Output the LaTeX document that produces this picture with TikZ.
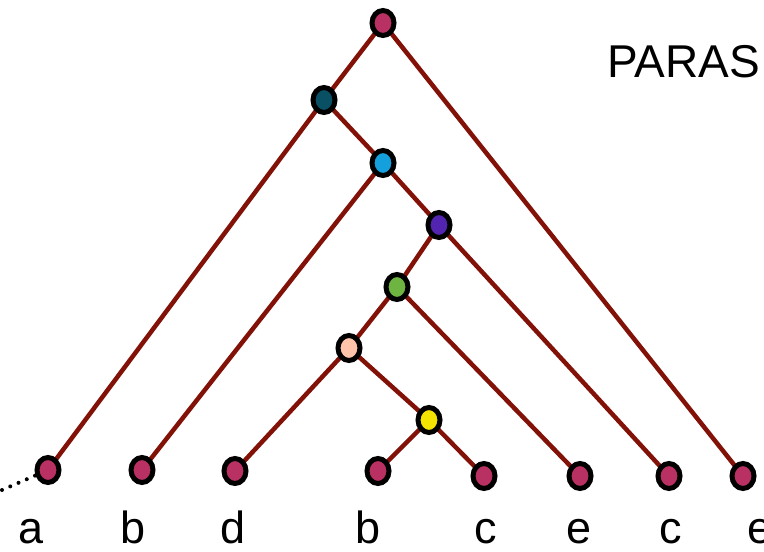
\documentclass[tikz,border=0pt]{standalone}
\usepackage{fontspec}
\setmainfont{Liberation Sans}
\usetikzlibrary{shapes.geometric,backgrounds}
\definecolor{edgered}{RGB}{130,18,8}
\definecolor{leafpink}{RGB}{185,48,98}
\definecolor{tealdark}{RGB}{10,80,100}
\definecolor{skyblue}{RGB}{20,160,220}
\definecolor{violet}{RGB}{82,36,176}
\definecolor{leafgreen}{RGB}{110,180,64}
\definecolor{peach}{RGB}{255,196,170}
\definecolor{sunyellow}{RGB}{242,228,0}
\tikzset{
  vert/.style={ellipse, draw=black, line width=5bp, minimum width=22bp, minimum height=25bp, inner sep=0pt, fill=#1},
  branch/.style={draw=edgered, line width=4.5bp},
  leaflabel/.style={anchor=base, font=\fontsize{45bp}{48bp}\selectfont, inner sep=0pt},
}
\begin{document}
\begin{tikzpicture}[x=1bp, y=-1bp]
\useasboundingbox (0,0) rectangle (764,552);

% internal vertices
\node[vert=leafpink]  (root)   at (383,23)  {};
\node[vert=tealdark]  (n1)     at (324,100) {};
\node[vert=skyblue]   (n2)     at (383,163) {};
\node[vert=violet]    (n3)     at (439,225) {};
\node[vert=leafgreen] (n4)     at (397,287) {};
\node[vert=peach]     (n5)     at (349,348) {};
\node[vert=sunyellow] (n6)     at (429,420) {};

% leaves
\node[vert=leafpink] (la)  at (48,470)  {};
\node[vert=leafpink] (lb)  at (142,470) {};
\node[vert=leafpink] (ld)  at (235,471) {};
\node[vert=leafpink] (lb2) at (378,471) {};
\node[vert=leafpink] (lc)  at (484,476) {};
\node[vert=leafpink] (le)  at (580,476) {};
\node[vert=leafpink] (lc2) at (669,476) {};
\node[vert=leafpink] (le2) at (743,476) {};

% branches, behind the vertices
\begin{scope}[on background layer]
\path[branch] (root.center) -- (n1.center) (root.center) -- (le2.center)
  (n1.center) -- (la.center) (n1.center) -- (n2.center)
  (n2.center) -- (lb.center) (n2.center) -- (n3.center)
  (n3.center) -- (n4.center) (n3.center) -- (lc2.center)
  (n4.center) -- (n5.center) (n4.center) -- (le.center)
  (n5.center) -- (ld.center) (n5.center) -- (n6.center)
  (n6.center) -- (lb2.center) (n6.center) -- (lc.center);

% dotted continuation to the left
\coordinate (off) at (2,490);
\draw[line width=4bp, line cap=round, dash pattern=on 0pt off 9bp] (off) -- (la.center);
\end{scope}

% leaf labels
\node[leaflabel] (ta)  at (31,543)  {a};
\node[leaflabel] (tb)  at (133,543) {b};
\node[leaflabel] (td)  at (233,543) {d};
\node[leaflabel] (tb2) at (368,543) {b};
\node[leaflabel] (tc)  at (486,543) {c};
\node[leaflabel] (te)  at (579,543) {e};
\node[leaflabel] (tc2) at (671,543) {c};
\node[leaflabel, anchor=base west] (te2) at (747,543) {e};

% title
\node[anchor=base west, inner sep=0pt, font=\fontsize{46bp}{50bp}\selectfont] (title) at (607,78) {PARAS};
\end{tikzpicture}
\end{document}
